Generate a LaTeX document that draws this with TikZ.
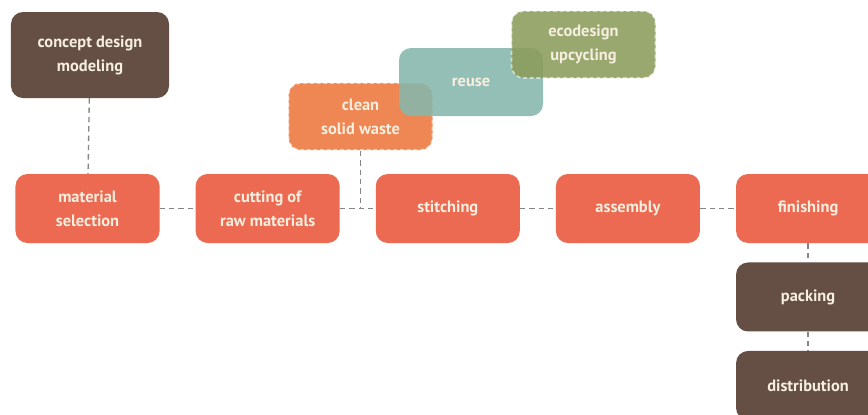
\documentclass[tikz,border=0pt]{standalone}
\usepackage{fontspec}
\setmainfont{PT Sans}
\usetikzlibrary{positioning}

\definecolor{stepred}{HTML}{EC6A52}
\definecolor{stepbrown}{HTML}{654F44}
\definecolor{wasteorange}{HTML}{EE8753}
\definecolor{reuseteal}{HTML}{86B7AC}
\definecolor{ecoolive}{HTML}{8C9C5C}
\definecolor{boxtext}{HTML}{F6EEDF}
\definecolor{linkgray}{HTML}{858585}

\tikzset{
	box/.style={rounded corners=0.36cm, minimum width=4.32cm, minimum height=2.07cm,
		inner sep=0pt, align=center, text=boxtext, font=\fontsize{14}{20.5}\selectfont\bfseries},
	redbox/.style={box, fill=stepred},
	brownbox/.style={box, fill=stepbrown},
	sidebox/.style={box, minimum height=2.01cm, draw=white, draw opacity=0.55,
		line width=0.05cm, dash pattern=on 0.12cm off 0.08cm},
	link/.style={draw=linkgray, line width=0.04cm, dash pattern=on 0.16cm off 0.12cm}
}

\begin{document}
\begin{tikzpicture}[x=0.03cm, y=-0.03cm, node distance=1.07cm]
	
	\clip (0,0) rectangle (868,414);
	\fill[white] (0,0) rectangle (868,414);
	
	% production line
	\node[redbox] (material) at (87.5,208.5) {material\\selection};
	\node[redbox, right=of material] (cutting) {cutting of\\raw materials};
	\node[redbox, right=of cutting] (stitching) {stitching};
	\node[redbox, right=of stitching] (assembly) {assembly};
	\node[redbox, right=of assembly] (finishing) {finishing};
	\node[brownbox, below=0.57cm of finishing] (packing) {packing};
	\node[brownbox, below=0.57cm of packing] (distribution) {distribution};
	
	\node[brownbox, minimum width=4.74cm, minimum height=2.58cm] (concept) at (90,55)
		{concept design\\modeling};
	
	% waste branch
	\node[sidebox, fill=wasteorange] (clean) at (360.5,116.5) {clean\\solid waste};
	\node[box, minimum height=2.04cm, fill=reuseteal, fill opacity=0.88, text opacity=1]
		(reuse) at (471,82) {reuse};
	\node[sidebox, fill=ecoolive, fill opacity=0.88, text opacity=1]
		(eco) at (583.5,44.5) {ecodesign\\upcycling};
	
	\coordinate (drop) at (clean.south |- cutting.east);
	
	\draw[link] (concept) -- (material);
	\draw[link] (material) -- (cutting);
	\draw[link] (cutting) -- (stitching);
	\draw[link] (stitching) -- (assembly);
	\draw[link] (assembly) -- (finishing);
	\draw[link] (clean) -- (drop);
	\draw[link] (finishing) -- (packing);
	\draw[link] (packing) -- (distribution);
	
\end{tikzpicture}
\end{document}
